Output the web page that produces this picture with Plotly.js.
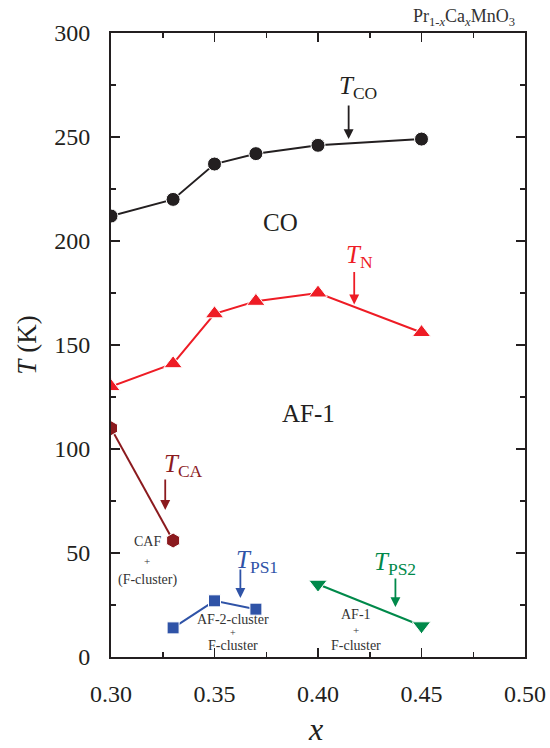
<!DOCTYPE html>
<html>
<head>
<meta charset="utf-8">
<script src="https://cdn.plot.ly/plotly-3.0.1.min.js"></script>
<style>html,body{margin:0;padding:0;background:#fff;}#chart{width:550px;height:748px;}</style>
</head>
<body>
<div id="chart"></div>
<script>
// ---- data ----
const xCO = [0.30, 0.33, 0.35, 0.37, 0.40, 0.45];
const tCO = [212, 220, 237, 242, 246, 249];
const xN = [0.30, 0.33, 0.35, 0.37, 0.40, 0.45];
const tN = [130, 141, 165, 171, 175, 156];
const xCA = [0.30, 0.33];
const tCA = [110, 56];
const xPS1 = [0.33, 0.35, 0.37];
const tPS1 = [14, 27, 23];
const xPS2 = [0.40, 0.45];
const tPS2 = [35, 15];
const xTicks = [0.30, 0.35, 0.40, 0.45, 0.50];
const xTickText = ['0.30', '0.35', '0.40', '0.45', '0.50'];
const yTicks = [0, 50, 100, 150, 200, 250, 300];

const FONT = '"Liberation Serif", "Times New Roman", serif';
const BLACK = '#231f20', RED = '#ee1c25', DRED = '#8b1a1e', BLUE = '#2f53a7', GREEN = '#00894a';

function series(x, y, color, symbol, size) {
  return {x: x, y: y, type: 'scatter', mode: 'lines+markers',
    line: {color: color, width: 2},
    marker: {color: color, symbol: symbol, size: size, line: {color: '#ffffff', width: 1}},
    hoverinfo: 'x+y', showlegend: false};
}

const data = [
  series(xCO, tCO, BLACK, 'circle', 14),
  series(xN, tN, RED, 'triangle-up', 16),
  series(xCA, tCA, DRED, 'hexagon', 15),
  series(xPS1, tPS1, BLUE, 'square', 12),
  series(xPS2, tPS2, GREEN, 'triangle-down', 16)
];

function label(x, y, text, color, size) {
  return {x: x, y: y, xref: 'x', yref: 'y', text: text, showarrow: false,
    font: {family: FONT, size: size, color: color}, xanchor: 'center', yanchor: 'middle'};
}
function arrow(x, y, len, color) {
  return {x: x, y: y, xref: 'x', yref: 'y', text: '', showarrow: true, ax: 0, ay: -len,
    arrowhead: 2, arrowsize: 1.1, arrowwidth: 1.8, arrowcolor: color, standoff: 0};
}

const annotations = [
  label(0.4192, 273.6, '<i>T</i><sub>CO</sub>', BLACK, 25),
  arrow(0.4148, 249, 35, BLACK),
  label(0.4200, 192.4, '<i>T</i><sub>N</sub>', RED, 25),
  arrow(0.4175, 169.5, 34, RED),
  label(0.3821, 208.8, 'CO', BLACK, 25),
  label(0.3954, 117.3, 'AF-1', BLACK, 25),
  label(0.3349, 92.3, '<i>T</i><sub>CA</sub>', DRED, 25),
  arrow(0.3262, 70.7, 32, DRED),
  label(0.3175, 55.3, 'CAF', '#333333', 14),
  label(0.3175, 46.2, '+', '#333333', 11),
  label(0.3175, 37.0, '(F-cluster)', '#333333', 14),
  label(0.3705, 45.8, '<i>T</i><sub>PS1</sub>', BLUE, 25),
  arrow(0.3625, 28.4, 30, BLUE),
  label(0.3591, 18.0, 'AF-2-cluster', '#333333', 14),
  label(0.3591, 11.8, '+', '#333333', 10),
  label(0.3591, 5.3, 'F-cluster', '#333333', 14),
  label(0.4374, 45.0, '<i>T</i><sub>PS2</sub>', GREEN, 25),
  arrow(0.4374, 24, 30, GREEN),
  label(0.4184, 20.2, 'AF-1', '#333333', 14),
  label(0.4184, 13.0, '+', '#333333', 11),
  label(0.4184, 5.3, 'F-cluster', '#333333', 14),
  {xref: 'paper', yref: 'paper', x: 1.0, y: 1.0, xanchor: 'right', yanchor: 'bottom',
   text: 'Pr<sub>1-<i>x</i></sub>Ca<sub><i>x</i></sub>MnO<sub>3</sub>', showarrow: false,
   font: {family: FONT, size: 18, color: '#333333'}, xshift: -8, yshift: 2},
  {xref: 'paper', yref: 'paper', x: 0.493, y: -0.1154, xanchor: 'center', yanchor: 'middle',
   text: '<i>x</i>', showarrow: false, font: {family: FONT, size: 32, color: BLACK}}
];

const axisCommon = {
  showgrid: false, zeroline: false, showline: true, linecolor: BLACK, linewidth: 2,
  mirror: 'ticks', ticks: 'inside', ticklen: 9, tickwidth: 1.5, tickcolor: BLACK,
  tickfont: {family: FONT, size: 24, color: BLACK}
};

const layout = {
  width: 550, height: 748,
  margin: {l: 111, r: 25, t: 33, b: 91},
  paper_bgcolor: '#ffffff', plot_bgcolor: '#ffffff',
  font: {family: FONT, color: BLACK},
  showlegend: false,
  xaxis: Object.assign({}, axisCommon, {
    range: [0.30, 0.50], tickvals: xTicks, ticktext: xTickText, ticklabelstandoff: 14,
    minor: {dtick: 0.025, tick0: 0.30, ticks: 'inside', ticklen: 5, tickwidth: 1.5, tickcolor: BLACK}
  }),
  yaxis: Object.assign({}, axisCommon, {
    range: [0, 300], tickvals: yTicks, ticklabelstandoff: 14,
    minor: {dtick: 25, tick0: 0, ticks: 'inside', ticklen: 5, tickwidth: 1.5, tickcolor: BLACK},
    title: {text: '<i>T</i> (K)', font: {family: FONT, size: 27, color: BLACK}, standoff: 10}
  }),
  annotations: annotations
};

Plotly.newPlot('chart', data, layout, {displayModeBar: false, staticPlot: true});
</script>
</body>
</html>
